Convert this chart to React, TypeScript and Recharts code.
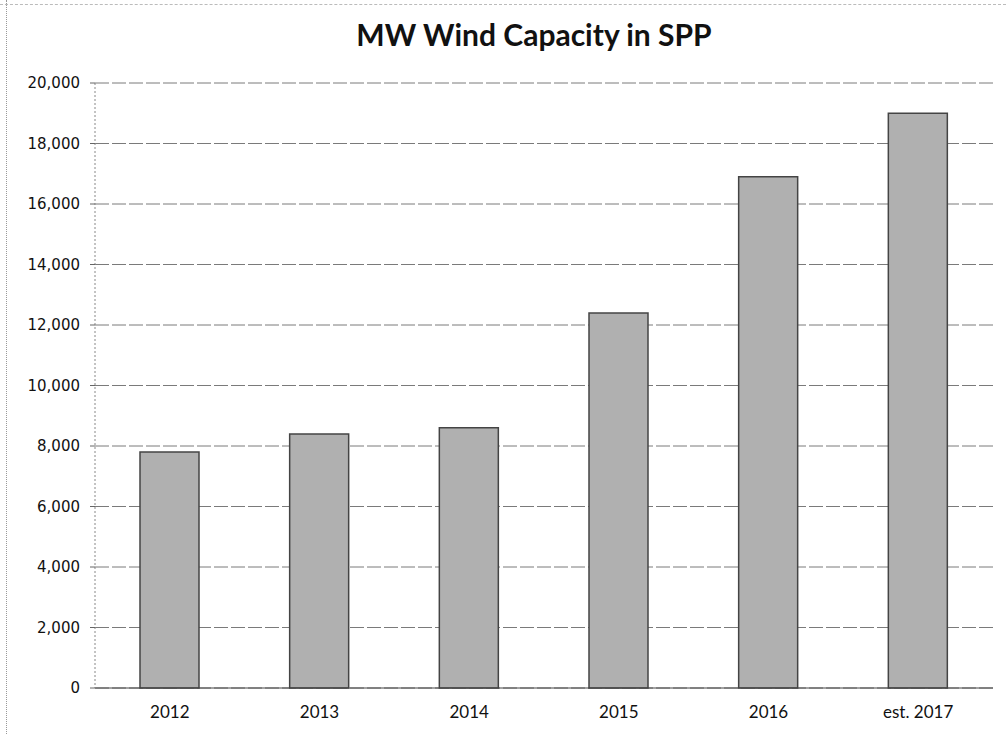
import React from "react";
import { BarChart, Bar, XAxis, YAxis, CartesianGrid } from "recharts";

const years = ["2012", "2013", "2014", "2015", "2016", "est. 2017"];
const capacity = [7800, 8400, 8600, 12400, 16900, 19000];
const yTicks = [0, 2000, 4000, 6000, 8000, 10000, 12000, 14000, 16000, 18000, 20000];

const chartData = years.map((year, i) => ({ year, mw: capacity[i] }));

export default function App() {
  return (
    <div
      style={{
        position: "absolute",
        left: 0,
        top: 0,
        width: 1006,
        height: 734,
        background: "#fff",
      }}
    >
      {/* scanned page edges */}
      <div
        style={{
          position: "absolute",
          left: 6,
          top: 0,
          width: 0,
          height: 734,
          borderLeft: "1px dotted #999",
        }}
      />
      <div
        style={{
          position: "absolute",
          left: 0,
          top: 4,
          width: 1006,
          height: 0,
          borderTop: "1px dashed #bbb",
        }}
      />
      <div
        style={{
          position: "absolute",
          left: 0,
          top: 16,
          width: 1006,
          textAlign: "center",
          paddingLeft: 62,
          boxSizing: "border-box",
          fontFamily: "Lato, 'Open Sans', sans-serif",
          fontWeight: 700,
          fontSize: 30,
          color: "#111",
        }}
      >
        MW Wind Capacity in SPP
      </div>
      <BarChart
        width={1006}
        height={734}
        data={chartData}
        margin={{ top: 83, right: 13, left: 0, bottom: 0 }}
      >
        <CartesianGrid
          vertical={false}
          stroke="#7a7a7a"
          strokeDasharray="14 3"
        />
        <XAxis
          dataKey="year"
          height={46}
          axisLine={{ stroke: "#444" }}
          tickLine={false}
          tick={{ fontSize: 17, fill: "#111", fontFamily: "Lato, sans-serif" }}
          tickMargin={12}
          interval={0}
        />
        <YAxis
          width={95}
          domain={[0, 20000]}
          ticks={yTicks}
          interval={0}
          axisLine={{ stroke: "#888", strokeDasharray: "2 2" }}
          tickLine={{ stroke: "#666" }}
          tickSize={5}
          tickMargin={10}
          tickFormatter={(v: number) => v.toLocaleString("en-US")}
          tick={{ fontSize: 15, fill: "#111", fontFamily: "'DejaVu Sans', sans-serif" }}
        />
        <Bar
          dataKey="mw"
          fill="#b0b0b0"
          stroke="#444"
          strokeWidth={1.5}
          barSize={59}
          isAnimationActive={false}
        />
      </BarChart>
    </div>
  );
}
